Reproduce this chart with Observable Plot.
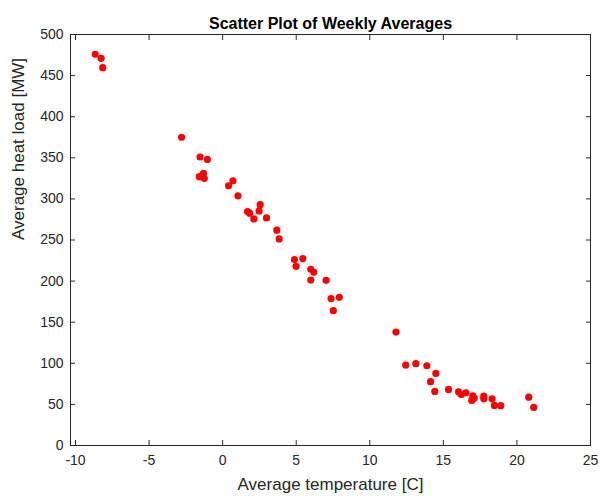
<!DOCTYPE html>
<html>
<head>
<meta charset="utf-8">
<script src="https://cdn.jsdelivr.net/npm/d3@7"></script>
<script src="https://cdn.jsdelivr.net/npm/@observablehq/plot@0.6"></script>
<style>
  body { margin: 0; background: #fff; }
  #chart svg { display: block; }
</style>
</head>
<body>
<div id="chart"></div>
<script>
const temperature = [
  -8.66, -8.26, -8.15, -2.79, -1.54, -1.04, -1.59, -1.30, -1.25, 0.40, 0.70,
  1.04, 1.69, 1.83, 2.12, 2.55, 2.48, 2.98, 3.68, 3.84, 4.88, 5.45, 4.99, 5.99, 6.19, 5.99, 7.03, 7.37, 7.93, 7.52,
  11.78, 12.44, 13.13, 13.88, 14.49, 14.13, 14.42, 15.35, 16.03, 16.21, 16.53, 17.00, 17.09, 16.93, 17.75, 17.75, 18.31, 18.47, 18.90, 20.80, 21.14
];
const heatLoad = [
  476, 471, 459.6, 375, 351, 348, 327, 331, 325, 316, 322,
  303.7, 284.7, 282.6, 275.6, 293, 285.4, 276.9, 261.9, 251.3, 226.2, 227.4, 218, 214.4, 211, 201.3, 201, 178.7, 180.3, 164,
  138, 97.8, 99.5, 97, 87.7, 77.6, 65.8, 68.2, 65.4, 62.1, 64.2, 60.5, 57.6, 54.8, 60, 56.9, 56.9, 48.7, 48.4, 58.8, 46.3
];
const xTicks = [-10, -5, 0, 5, 10, 15, 20, 25];
const yTicks = [0, 50, 100, 150, 200, 250, 300, 350, 400, 450, 500];
const title = "Scatter Plot of Weekly Averages";
const xLabel = "Average temperature [C]";
const yLabel = "Average heat load [MW]";

const points = temperature.map((t, i) => ({t, h: heatLoad[i]}));
const axisColor = "#262626";
const fmt = d => String(d);

const chart = Plot.plot({
  width: 601,
  height: 498,
  marginLeft: 70,
  marginRight: 11,
  marginTop: 34,
  marginBottom: 53,
  style: {fontFamily: "'Liberation Sans', Arial, sans-serif", fontSize: "14px", color: axisColor, background: "#fff"},
  x: {domain: [-10.34, 25]},
  y: {domain: [0, 500]},
  marks: [
    Plot.frame({stroke: axisColor, strokeWidth: 1}),
    Plot.axisX(xTicks, {anchor: "bottom", tickSize: -5, tickPadding: 15, fontSize: 14, tickFormat: fmt, label: null, stroke: axisColor}),
    Plot.axisX(xTicks, {anchor: "top", tickSize: -5, tickFormat: () => "", label: null, stroke: axisColor}),
    Plot.axisY(yTicks, {anchor: "left", tickSize: -5, tickPadding: 12, fontSize: 14, tickFormat: fmt, label: null, stroke: axisColor}),
    Plot.axisY(yTicks, {anchor: "right", tickSize: -5, tickFormat: () => "", label: null, stroke: axisColor}),
    Plot.dot(points, {x: "t", y: "h", r: 3.6, fill: "#ff0000", stroke: "none"}),
    Plot.text([title], {frameAnchor: "top", dy: -17, fontSize: 16, fontWeight: "bold", fill: "#000", text: d => d}),
    Plot.text([xLabel], {frameAnchor: "bottom", dy: 44, fontSize: 17, fill: axisColor, text: d => d}),
    Plot.text([yLabel], {frameAnchor: "left", dx: -52, rotate: -90, fontSize: 17, fill: axisColor, text: d => d})
  ]
});
document.getElementById("chart").appendChild(chart);
</script>
</body>
</html>
